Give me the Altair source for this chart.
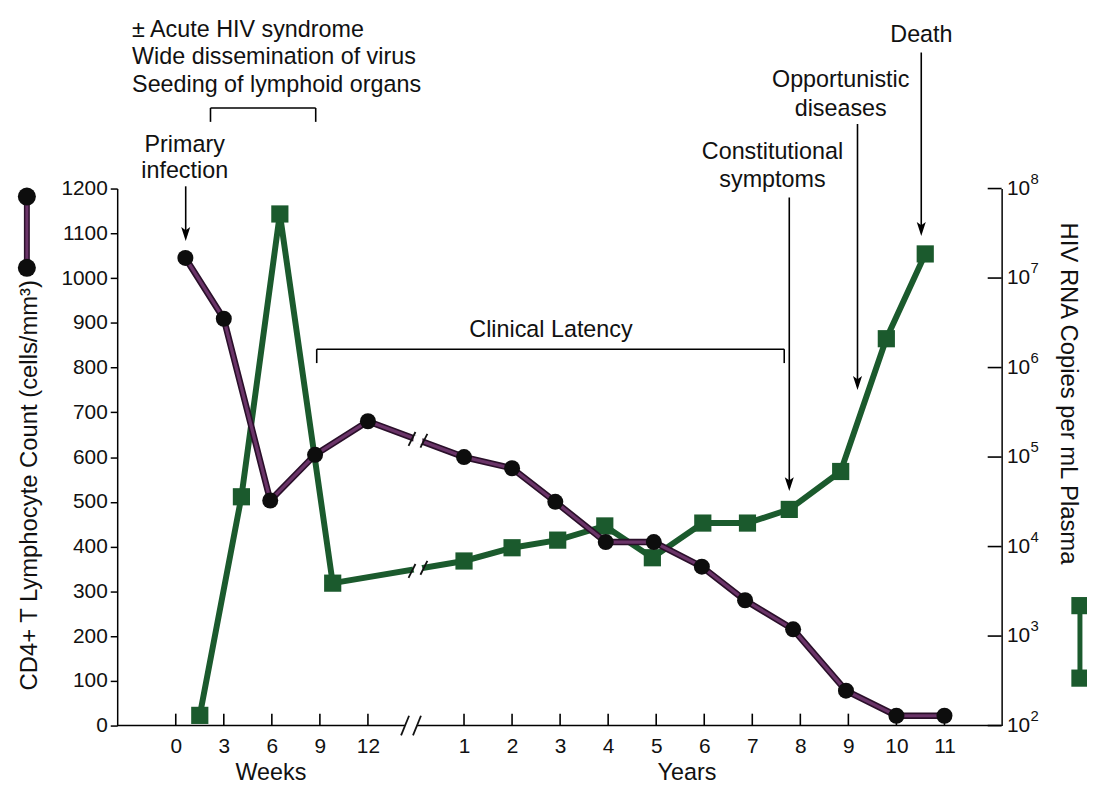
import altair as alt
import pandas as pd

# ---------------- data ----------------
cd4_weeks = [0.6, 3.0, 5.9, 8.7, 12.0]
cd4_weeks_count = [1045, 909, 503, 605, 680]
cd4_years = [1.0, 2.0, 2.9, 3.95, 4.95, 5.95, 6.85, 7.85, 8.95, 10.0, 11.0]
cd4_years_count = [600, 575, 500, 410, 410, 355, 280, 215, 78, 22, 22]

rna_weeks = [1.5, 4.1, 6.5, 9.8]
rna_weeks_copies = [130, 36000, 52000000, 3900]
rna_years = [1.0, 2.0, 2.95, 3.93, 4.92, 5.97, 6.9, 7.77, 8.84, 9.79, 10.6]
rna_years_copies = [6900, 9700, 11800, 17000, 7500, 18300, 18300, 26000, 69000, 2100000, 18600000]

week_ticks = [0, 3, 6, 9, 12]
year_ticks = list(range(1, 12))
cd4_ticks = list(range(0, 1201, 100))
rna_exponents = [2, 3, 4, 5, 6, 7, 8]

# annotation texts (x in axis position units, y in CD4 units)
ann_left_labels = ["± Acute HIV syndrome", "Wide dissemination of virus", "Seeding of lymphoid organs"]
ann_left_x = [-0.909, -0.909, -0.909]
ann_left_y = [1555, 1493, 1431]

ann_center_labels = ["Primary", "infection", "Clinical Latency", "Constitutional", "symptoms",
                     "Opportunistic", "diseases", "Death", "Weeks", "Years"]
ann_center_x = [0.186, 0.186, 7.81, 12.42, 12.42, 13.84, 13.84, 15.52, 1.98, 10.64]
ann_center_y = [1298, 1238, 883, 1282, 1220, 1442, 1378, 1542, -105, -105]

# brackets and arrow shafts: x1, x2, y1, y2
seg_x1 = [0.723, 0.723, 2.913, 2.934, 2.934, 12.665, 0.207, 12.77, 14.19, 15.517]
seg_x2 = [2.913, 0.723, 2.913, 12.665, 2.934, 12.665, 0.207, 12.77, 14.19, 15.517]
seg_y1 = [1380, 1380, 1380, 841, 841, 841, 1205, 1180, 1344, 1504]
seg_y2 = [1380, 1349, 1349, 841, 810, 810, 1092, 532, 758, 1102]
head_x = [0.207, 12.77, 14.19, 15.517]
head_y = [1083, 524, 750, 1094]

# x-axis line (broken) and break slashes
axis_x1 = [-1.219, 5.021]
axis_x2 = [4.773, 17.19]
slash_x1 = [4.690, 4.938, 4.845, 5.093, 4.845, 5.093]
slash_x2 = [4.856, 5.104, 4.989, 5.237, 4.989, 5.237]
slash_y1 = [-22, -22, 625, 621, 330, 337]
slash_y2 = [22, 22, 656, 652, 361, 368]
gap_x1 = [4.95, 4.95]
gap_x2 = [5.13, 5.13]
gap_y1 = [640, 347]
gap_y2 = [637, 353]

# legend keys and axis titles
key_circle_x = [-3.099, -3.099]
key_circle_y = [1182, 1023]
key_square_x = [18.82, 18.82]
key_square_y = [268, 106]
left_title = "CD4+ T Lymphocyte Count (cells/mm³)"
left_title_x, left_title_y = -3.037, 537
right_title = "HIV RNA Copies per mL Plasma"
right_title_x, right_title_y = 18.58, 742

# ---------------- styling ----------------
FONT = "Liberation Sans"
TXT = "#111111"
PURPLE = "#6a3468"
PURPLE_DARK = "#2a0f2a"
GREEN = "#1b5a2d"
X_MIN, X_MAX = -1.219, 17.19
W, H = 891, 541
ANN_FS = 23.5
TITLE_FS = 24

tick_pos = [w / 3 for w in week_ticks] + [y + 5 for y in year_ticks]

XS = alt.Scale(domain=[X_MIN, X_MAX], nice=False, zero=False)
YL = alt.Scale(domain=[0, 1200], nice=False, zero=False)
YR = alt.Scale(type="log", domain=[100, 1e8], nice=False)

XAX = alt.Axis(values=tick_pos,
               labelExpr="datum.value <= 4.5 ? format(datum.value*3, 'd') : format(datum.value-5, 'd')",
               ticks=False, domain=False, grid=False, labelFontSize=21, labelFont=FONT,
               labelColor=TXT, labelPadding=10, title=None)
YLAX = alt.Axis(values=cd4_ticks, format="d", tickSize=7, tickWidth=1.5, tickColor="black",
                domainColor="black", domainWidth=1.5, labelFontSize=21, labelFont=FONT,
                labelColor=TXT, labelPadding=3, grid=False, title=None)
YRAX = alt.Axis(orient="right", labels=False, ticks=False, domainColor="black",
                domainWidth=1.5, grid=False, title=None)


def X(f):
    return alt.X(f"{f}:Q", scale=XS, axis=XAX)


def YA(f):
    return alt.Y(f"{f}:Q", scale=YL, axis=YLAX)


def YB(f):
    return alt.Y(f"{f}:Q", scale=YR, axis=YRAX)


# ---------------- tables ----------------
cd4 = pd.DataFrame({"pos": [w / 3 for w in cd4_weeks] + [y + 5 for y in cd4_years],
                    "v": cd4_weeks_count + cd4_years_count})
rna = pd.DataFrame({"pos": [w / 3 for w in rna_weeks] + [y + 5 for y in rna_years],
                    "rna": rna_weeks_copies + rna_years_copies})
segs = pd.DataFrame({"x1": seg_x1, "x2": seg_x2, "y1": seg_y1, "y2": seg_y2})
heads = pd.DataFrame({"pos": head_x, "v": head_y})
axis_line = pd.DataFrame({"x1": axis_x1, "x2": axis_x2, "y1": [0, 0], "y2": [0, 0]})
slashes = pd.DataFrame({"x1": slash_x1, "x2": slash_x2, "y1": slash_y1, "y2": slash_y2})
gaps = pd.DataFrame({"x1": gap_x1, "x2": gap_x2, "y1": gap_y1, "y2": gap_y2})
xticks = pd.DataFrame({"pos": tick_pos, "y1": [0] * len(tick_pos), "y2": [26.6] * len(tick_pos)})
tl = pd.DataFrame({"label": ann_left_labels, "pos": ann_left_x, "v": ann_left_y})
tc = pd.DataFrame({"label": ann_center_labels, "pos": ann_center_x, "v": ann_center_y})
keyc = pd.DataFrame({"pos": key_circle_x, "v": key_circle_y})
keys = pd.DataFrame({"pos": key_square_x, "v": key_square_y})
titles_l = pd.DataFrame({"label": [left_title], "pos": [left_title_x], "v": [left_title_y]})
titles_r = pd.DataFrame({"label": [right_title], "pos": [right_title_x], "v": [right_title_y]})
rticks = pd.DataFrame({"x1": [16.90] * len(rna_exponents), "x2": [X_MAX] * len(rna_exponents),
                       "rna": [10.0 ** k for k in rna_exponents],
                       "base": ["10"] * len(rna_exponents),
                       "sup": [str(k) for k in rna_exponents],
                       "lx": [17.30] * len(rna_exponents),
                       "sx": [17.79] * len(rna_exponents)})


def seg_layer(df, color="black", width=1.6):
    return alt.Chart(df).mark_rule(color=color, strokeWidth=width).encode(
        x=X("x1"), x2="x2", y=YA("y1"), y2="y2")


# ---------------- layer A (CD4 units) ----------------
cd4_under = alt.Chart(cd4).mark_line(color=PURPLE_DARK, strokeWidth=6.5).encode(x=X("pos"), y=YA("v"))
cd4_line = alt.Chart(cd4).mark_line(color=PURPLE, strokeWidth=3.2).encode(x=X("pos"), y=YA("v"))
cd4_pts = alt.Chart(cd4).mark_circle(color="#0d0d0d", size=260, opacity=1).encode(x=X("pos"), y=YA("v"))

key_line_u = alt.Chart(keyc).mark_line(color=PURPLE_DARK, strokeWidth=6).encode(x=X("pos"), y=YA("v"))
key_line = alt.Chart(keyc).mark_line(color=PURPLE, strokeWidth=3).encode(x=X("pos"), y=YA("v"))
key_pts = alt.Chart(keyc).mark_circle(color="#0d0d0d", size=330, opacity=1).encode(x=X("pos"), y=YA("v"))

key_sq_line = alt.Chart(keys).mark_line(color=GREEN, strokeWidth=5).encode(x=X("pos"), y=YA("v"))
key_sq = alt.Chart(keys).mark_square(color=GREEN, size=300, opacity=1).encode(x=X("pos"), y=YA("v"))

brackets = seg_layer(segs)
arrow_heads = alt.Chart(heads).mark_point(
    shape="M-0.65,-2L0,0L0.65,-2L0,-1.55Z", size=196, filled=True, color="black",
    opacity=1, strokeWidth=0).encode(x=X("pos"), y=YA("v"))

xaxis_line = seg_layer(axis_line, width=1.6)
xtick_marks = alt.Chart(xticks).mark_rule(color="black", strokeWidth=1.6).encode(
    x=X("pos"), y=YA("y1"), y2="y2")
gap_marks = seg_layer(gaps, color="white", width=8)
slash_marks = seg_layer(slashes, color="#111111", width=1.8)

text_left = alt.Chart(tl).mark_text(align="left", baseline="middle", font=FONT, fontSize=ANN_FS,
                                    color=TXT).encode(x=X("pos"), y=YA("v"), text="label")
text_center = alt.Chart(tc).mark_text(align="center", baseline="middle", font=FONT, fontSize=ANN_FS,
                                      color=TXT).encode(x=X("pos"), y=YA("v"), text="label")
ttl_l = alt.Chart(titles_l).mark_text(align="center", baseline="middle", font=FONT, fontSize=TITLE_FS,
                                      color=TXT, angle=270).encode(x=X("pos"), y=YA("v"), text="label")
ttl_r = alt.Chart(titles_r).mark_text(align="center", baseline="middle", font=FONT, fontSize=TITLE_FS,
                                      color=TXT, angle=90).encode(x=X("pos"), y=YA("v"), text="label")

layer_a = alt.layer(key_line_u, key_line, key_pts, key_sq_line, key_sq,
                    brackets, arrow_heads, xaxis_line, xtick_marks,
                    cd4_under, cd4_line, cd4_pts, gap_marks, slash_marks,
                    text_left, text_center, ttl_l, ttl_r)

# ---------------- layer B (HIV RNA, log scale) ----------------
rna_line = alt.Chart(rna).mark_line(color=GREEN, strokeWidth=6).encode(x=X("pos"), y=YB("rna"))
rna_pts = alt.Chart(rna).mark_square(color=GREEN, size=300, opacity=1).encode(x=X("pos"), y=YB("rna"))
r_ticks = alt.Chart(rticks).mark_rule(color="black", strokeWidth=1.6).encode(
    x=X("x1"), x2="x2", y=YB("rna"))
r_base = alt.Chart(rticks).mark_text(align="left", baseline="middle", font=FONT, fontSize=21,
                                     color=TXT).encode(x=X("lx"), y=YB("rna"), text="base")
r_sup = alt.Chart(rticks).mark_text(align="left", baseline="middle", font=FONT, fontSize=15,
                                    color=TXT, dy=-10).encode(x=X("sx"), y=YB("rna"), text="sup")

layer_b = alt.layer(rna_line, rna_pts, r_ticks, r_base, r_sup)

chart = alt.layer(layer_b, layer_a).resolve_scale(y="independent").properties(
    width=W, height=H,
    autosize=alt.AutoSizeParams(type="none"),
    padding={"left": 110, "top": 179, "right": 86, "bottom": 59},
    background="white",
).configure_view(strokeWidth=0)

chart.save("out.html", embed_options={"renderer": "svg", "actions": False})
